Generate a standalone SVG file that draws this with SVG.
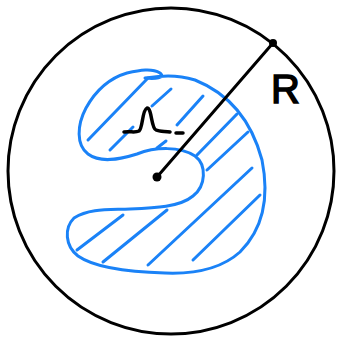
<svg xmlns="http://www.w3.org/2000/svg" width="338" height="337" viewBox="0 0 338 337">
<style>
.k{fill:none;stroke:#000;stroke-width:3;stroke-linecap:round;stroke-linejoin:round}
.b{fill:none;stroke:#1a82f7;stroke-width:3;stroke-linecap:round;stroke-linejoin:round}
.t{font-family:"Liberation Sans",Arial,sans-serif;font-size:40px;fill:#000;stroke:#000;stroke-width:1.5}
</style>
<rect width="338" height="337" fill="#fff"/>
<g id="outer-circle">
<circle class="k" cx="171" cy="171" r="163"/>
</g>
<g id="region">
<path class="b" d="M127,73 C140,70 152,68 160,73 C166,78 155,79 145,78 C160,76 175,74 195,80 C225,92 250,115 262,160 C270,200 262,230 240,252 C220,270 190,274 165,273 C130,272 95,268 78,256 C65,246 64,228 74,218 C90,208 110,210 130,209 C155,208 180,207 193,196 C206,186 207,165 195,156 C180,146 155,147 137,154 C118,160 100,163 88,154 C76,145 77,125 86,108 C96,90 110,78 127,73 Z"/>
<g id="hatch">
<path class="b" d="M88,140 L148,78"/>
<path class="b" d="M110,150 L133,127 M152,106 L171,89"/>
<path class="b" d="M177,125 L203,96"/>
<path class="b" d="M157,148 L166,141"/>
<path class="b" d="M197,155 L237,114"/>
<path class="b" d="M207,170 L248,132"/>
<path class="b" d="M77,250 L123,215"/>
<path class="b" d="M103,262 L167,210"/>
<path class="b" d="M148,265 L252,168"/>
<path class="b" d="M193,260 L260,195"/>
</g>
<path id="region-label" class="k" style="stroke-width:3.5" d="M124,132 C130,131 135,133 139,131 C143,128 142,110 147,108 C152,108 151,128 156,130 C160,132 165,131 170,132 M176,133 L183,133"/>
</g>
<g id="center">
<circle cx="157" cy="177" r="4.5" fill="#000"/>
</g>
<g id="rim-point">
<circle cx="273" cy="43" r="4" fill="#000"/>
</g>
<g id="label-R">
<text class="t" x="271" y="103">R</text>
</g>
<g id="connectors">
<path class="k" d="M157,177 L273,43"/>
</g>
</svg>
